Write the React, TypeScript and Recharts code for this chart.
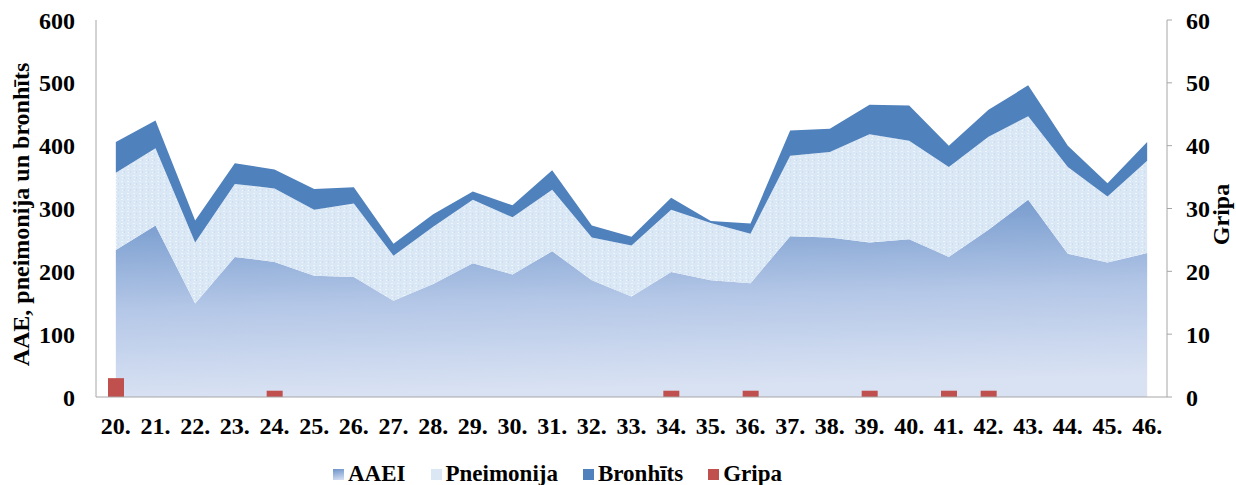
import { Area, Bar, ComposedChart, XAxis, YAxis } from "recharts";

const weeks = [
  "20.", "21.", "22.", "23.", "24.", "25.", "26.", "27.", "28.", "29.", "30.", "31.", "32.", "33.",
  "34.", "35.", "36.", "37.", "38.", "39.", "40.", "41.", "42.", "43.", "44.", "45.", "46.",
];
const aaei = [234, 273, 149, 223, 215, 193, 191, 153, 180, 213, 195, 232, 186, 160, 199, 186, 181, 256, 254, 246, 251, 223, 266, 314, 228, 214, 229];
const pneimonija = [123, 123, 97, 116, 117, 105, 117, 72, 91, 101, 91, 98, 68, 81, 99, 91, 79, 128, 136, 172, 157, 143, 148, 133, 138, 105, 147];
const bronhits = [49, 44, 35, 33, 30, 33, 26, 19, 20, 13, 19, 31, 19, 14, 19, 3, 16, 40, 37, 47, 56, 34, 43, 49, 34, 21, 30];
const gripa = [3, 0, 0, 0, 1, 0, 0, 0, 0, 0, 0, 0, 0, 0, 1, 0, 1, 0, 0, 1, 0, 1, 1, 0, 0, 0, 0];
const leftTicks = [0, 100, 200, 300, 400, 500, 600];
const rightTicks = [0, 10, 20, 30, 40, 50, 60];

const data = weeks.map((week, i) => ({
  week,
  aaei: aaei[i],
  pneimonija: pneimonija[i],
  bronhits: bronhits[i],
  gripa: gripa[i],
}));

const FONT = "'Liberation Serif', 'Times New Roman', serif";
const tickStyle = { fontFamily: FONT, fontWeight: 700, fontSize: 24, fill: "#000" };
const labelStyle = { fontFamily: FONT, fontWeight: 700, fontSize: 24, fill: "#000" };
const AXIS = "#a6a6a6";

const legendItems = [
  { name: "AAEI", swatch: "linear-gradient(170deg, #6b93c9, #d9e2f3)" },
  { name: "Pneimonija", swatch: "#dbe7f5" },
  { name: "Bronhīts", swatch: "#4f81bd" },
  { name: "Gripa", swatch: "#c0504d" },
];

export default function App() {
  return (
    <div style={{ position: "relative", width: 1236, height: 485, overflow: "hidden" }}>
      <style>{"body { margin: 0; }"}</style>
      <ComposedChart
        width={1236}
        height={485}
        data={data}
        margin={{ top: 20, right: 0, left: 0, bottom: 58 }}
        barGap={0}
      >
        <defs>
          <linearGradient id="aaeiFill" x1="0" y1="0" x2="0.12" y2="1">
            <stop offset="0" stopColor="#6b93c9" />
            <stop offset="0.55" stopColor="#b4c7e7" />
            <stop offset="1" stopColor="#d9e2f3" />
          </linearGradient>
          <pattern id="pneuFill" width="6" height="6" patternUnits="userSpaceOnUse">
            <rect width="6" height="6" fill="#dae7f5" />
            <rect x="1" y="1" width="2" height="1" fill="#eef4fb" />
            <rect x="4" y="3" width="1" height="2" fill="#cddcef" />
            <rect x="2" y="4" width="1" height="1" fill="#f3f7fc" />
          </pattern>
        </defs>
        <XAxis
          dataKey="week"
          height={30}
          tickLine={false}
          tickSize={0}
          tickMargin={20}
          axisLine={{ stroke: AXIS }}
          tick={tickStyle}
          interval={0}
        />
        <YAxis
          yAxisId="left"
          width={96}
          domain={[0, 600]}
          ticks={leftTicks}
          tickLine={false}
          tickSize={0}
          tickMargin={21}
          axisLine={{ stroke: AXIS }}
          tick={tickStyle}
          label={({ viewBox }: any) => {
            const cx = viewBox.x + 21;
            const cy = viewBox.y + viewBox.height / 2 + 6;
            return (
              <text
                x={cx}
                y={cy}
                transform={`rotate(-90, ${cx}, ${cy})`}
                textAnchor="middle"
                dominantBaseline="central"
                style={labelStyle}
              >
                AAE, pneimonija un bronhīts
              </text>
            );
          }}
        />
        <YAxis
          yAxisId="right"
          orientation="right"
          width={69}
          domain={[0, 60]}
          ticks={rightTicks}
          tickSize={5}
          tickMargin={14}
          tickLine={{ stroke: AXIS }}
          axisLine={{ stroke: AXIS }}
          tick={{ ...tickStyle, textAnchor: "start" }}
          label={({ viewBox }: any) => {
            const cx = viewBox.x + 54;
            const cy = viewBox.y + viewBox.height / 2 + 6;
            return (
              <text
                x={cx}
                y={cy}
                transform={`rotate(-90, ${cx}, ${cy})`}
                textAnchor="middle"
                dominantBaseline="central"
                style={labelStyle}
              >
                Gripa
              </text>
            );
          }}
        />
        <Area
          yAxisId="left"
          type="linear"
          dataKey="aaei"
          stackId="a"
          stroke="none"
          fill="url(#aaeiFill)"
          fillOpacity={1}
          isAnimationActive={false}
        />
        <Area
          yAxisId="left"
          type="linear"
          dataKey="pneimonija"
          stackId="a"
          stroke="none"
          fill="url(#pneuFill)"
          fillOpacity={1}
          isAnimationActive={false}
        />
        <Area
          yAxisId="left"
          type="linear"
          dataKey="bronhits"
          stackId="a"
          stroke="none"
          fill="#4f81bd"
          fillOpacity={1}
          isAnimationActive={false}
        />
        <Bar yAxisId="right" dataKey="gripa" fill="#c0504d" barSize={16} isAnimationActive={false} />
      </ComposedChart>
      <div
        style={{
          position: "absolute",
          top: 460,
          left: 333,
          height: 28,
          display: "flex",
          alignItems: "center",
          fontFamily: FONT,
          fontWeight: 700,
          fontSize: 23,
          lineHeight: "28px",
          whiteSpace: "nowrap",
        }}
      >
        {legendItems.map((item) => (
          <div key={item.name} style={{ display: "flex", alignItems: "center", marginRight: 25 }}>
            <span
              style={{ display: "inline-block", width: 11, height: 11, background: item.swatch, marginRight: 4 }}
            />
            <span>{item.name}</span>
          </div>
        ))}
      </div>
    </div>
  );
}
